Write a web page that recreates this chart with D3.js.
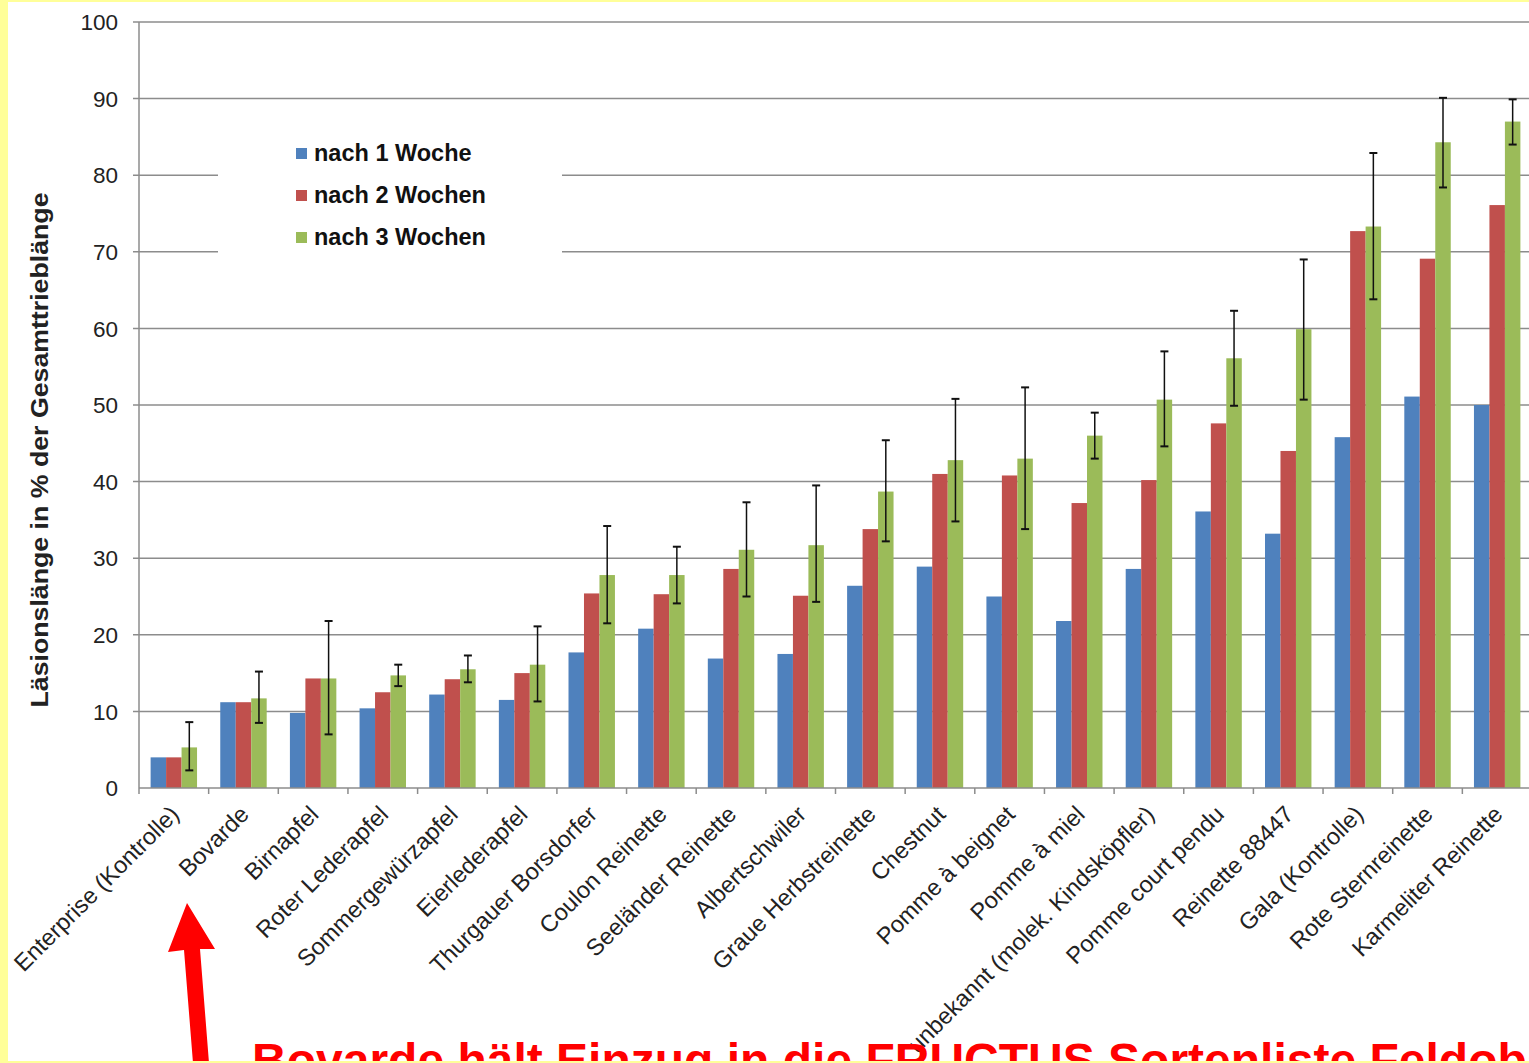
<!DOCTYPE html>
<html>
<head>
<meta charset="utf-8">
<script src="https://cdn.jsdelivr.net/npm/d3@7"></script>
<style>
  html, body { margin: 0; padding: 0; background: #fff; }
  svg { display: block; font-family: Arial, "Liberation Sans", sans-serif; }
</style>
</head>
<body>
<script>
// Sorten (x-axis categories)
var categories = ["Enterprise (Kontrolle)", "Bovarde", "Birnapfel", "Roter Lederapfel",
  "Sommergewürzapfel", "Eierlederapfel", "Thurgauer Borsdorfer", "Coulon Reinette",
  "Seeländer Reinette", "Albertschwiler", "Graue Herbstreinette", "Chestnut",
  "Pomme à beignet", "Pomme à miel", "unbekannt (molek. Kindsköpfler)", "Pomme court pendu",
  "Reinette 88447", "Gala (Kontrolle)", "Rote Sternreinette", "Karmeliter Reinette"];

var seriesNames = ["nach 1 Woche", "nach 2 Wochen", "nach 3 Wochen"];

// Läsionslänge in %
var week1 = [4.0, 11.2, 9.8, 10.4, 12.2, 11.5, 17.7, 20.8, 16.9, 17.5, 26.4, 28.9, 25.0, 21.8, 28.6, 36.1, 33.2, 45.8, 51.1, 50.0];
var week2 = [4.0, 11.2, 14.3, 12.5, 14.2, 15.0, 25.4, 25.3, 28.6, 25.1, 33.8, 41.0, 40.8, 37.2, 40.2, 47.6, 44.0, 72.7, 69.1, 76.1];
var week3 = [5.3, 11.7, 14.3, 14.7, 15.5, 16.1, 27.8, 27.8, 31.1, 31.7, 38.7, 42.8, 43.0, 46.0, 50.7, 56.1, 59.9, 73.3, 84.3, 87.0];

// error bars on the 3-week values (low / high)
var errLow  = [2.3, 8.5, 7.0, 13.3, 13.8, 11.3, 21.5, 24.1, 25.0, 24.3, 32.2, 34.8, 33.8, 43.0, 44.6, 49.9, 50.7, 63.8, 78.4, 84.0];
var errHigh = [8.6, 15.2, 21.8, 16.1, 17.3, 21.1, 34.2, 31.5, 37.3, 39.5, 45.4, 50.8, 52.3, 49.0, 57.0, 62.3, 69.0, 82.9, 90.1, 89.9];

var yTicks = [0, 10, 20, 30, 40, 50, 60, 70, 80, 90, 100];
var colors = ["#4F81BD", "#C0504D", "#9BBB59"];

var width = 1529, height = 1063;
var svg = d3.select("body").append("svg")
    .attr("width", width)
    .attr("height", height);

svg.append("rect").attr("width", width).attr("height", height).attr("fill", "#fff");

var plot = { left: 139, right: 1532, top: 22, bottom: 788 };

var x = d3.scaleBand()
    .domain(categories)
    .range([plot.left, plot.right]);

var xs = d3.scaleBand()
    .domain(d3.range(3))
    .range([0, x.bandwidth()])
    .paddingOuter(0.75);

var y = d3.scaleLinear()
    .domain([0, 100])
    .range([plot.bottom, plot.top]);

// gridlines
svg.append("g")
    .selectAll("line")
    .data(yTicks.slice(1))
    .enter().append("line")
    .attr("x1", plot.left - 6)
    .attr("x2", plot.right)
    .attr("y1", function (d) { return y(d); })
    .attr("y2", function (d) { return y(d); })
    .attr("stroke", "#8c8c8c")
    .attr("stroke-width", 1.5);

// y axis line
svg.append("line")
    .attr("x1", plot.left).attr("x2", plot.left)
    .attr("y1", plot.top).attr("y2", plot.bottom)
    .attr("stroke", "#8c8c8c").attr("stroke-width", 1.5);

// y tick labels
svg.append("g")
    .selectAll("text")
    .data(yTicks)
    .enter().append("text")
    .attr("x", 118)
    .attr("y", function (d) { return y(d); })
    .attr("dy", "0.36em")
    .attr("text-anchor", "end")
    .attr("font-size", 22.5)
    .attr("fill", "#222")
    .text(function (d) { return d; });

// bars
var rows = categories.map(function (c, i) {
    return { cat: c, vals: [week1[i], week2[i], week3[i]], lo: errLow[i], hi: errHigh[i] };
});

var groups = svg.append("g")
    .selectAll("g")
    .data(rows)
    .enter().append("g")
    .attr("transform", function (d) { return "translate(" + x(d.cat) + ",0)"; });

groups.selectAll("rect")
    .data(function (d) { return d.vals; })
    .enter().append("rect")
    .attr("x", function (d, i) { return xs(i); })
    .attr("width", xs.bandwidth())
    .attr("y", function (d) { return y(d); })
    .attr("height", function (d) { return y(0) - y(d); })
    .attr("fill", function (d, i) { return colors[i]; });

// error bars
var ex = function () { return xs(2) + xs.bandwidth() / 2; };
groups.append("line")
    .attr("x1", ex).attr("x2", ex)
    .attr("y1", function (d) { return y(d.lo); })
    .attr("y2", function (d) { return y(d.hi); })
    .attr("stroke", "#111").attr("stroke-width", 1.5);
[["lo"], ["hi"]].forEach(function (k) {
    groups.append("line")
        .attr("x1", function () { return ex() - 4; })
        .attr("x2", function () { return ex() + 4; })
        .attr("y1", function (d) { return y(d[k[0]]); })
        .attr("y2", function (d) { return y(d[k[0]]); })
        .attr("stroke", "#111").attr("stroke-width", 2);
});

// x axis line and ticks
svg.append("line")
    .attr("x1", plot.left).attr("x2", plot.right)
    .attr("y1", plot.bottom).attr("y2", plot.bottom)
    .attr("stroke", "#8c8c8c").attr("stroke-width", 1.5);
svg.append("g")
    .selectAll("line")
    .data(categories)
    .enter().append("line")
    .attr("x1", function (d) { return x(d); })
    .attr("x2", function (d) { return x(d); })
    .attr("y1", plot.bottom)
    .attr("y2", plot.bottom + 6)
    .attr("stroke", "#8c8c8c").attr("stroke-width", 1.5);

// category labels rotated
svg.append("g")
    .selectAll("text")
    .data(categories)
    .enter().append("text")
    .attr("transform", function (d) {
        return "translate(" + (x(d) + x.bandwidth() / 2 + 1) + "," + (plot.bottom + 22) + ") rotate(-45)";
    })
    .attr("text-anchor", "end")
    .attr("dy", "0.35em")
    .attr("font-size", 23.5)
    .attr("fill", "#222")
    .text(function (d) { return d; });

// y axis title
svg.append("text")
    .attr("transform", "translate(48,450) rotate(-90)")
    .attr("text-anchor", "middle")
    .attr("font-size", 24)
    .attr("font-weight", "bold")
    .attr("fill", "#222")
    .attr("textLength", 515)
    .attr("lengthAdjust", "spacingAndGlyphs")
    .text("Läsionslänge in % der Gesamttrieblänge");

// legend (white box hides gridlines)
var legend = svg.append("g");
legend.append("rect")
    .attr("x", 218).attr("y", 128)
    .attr("width", 344).attr("height", 134)
    .attr("fill", "#fff");
var li = legend.selectAll("g")
    .data(seriesNames)
    .enter().append("g")
    .attr("transform", function (d, i) { return "translate(296," + (153 + i * 42) + ")"; });
li.append("rect")
    .attr("x", 0).attr("y", -5)
    .attr("width", 11).attr("height", 11)
    .attr("fill", function (d, i) { return colors[i]; });
li.append("text")
    .attr("x", 18)
    .attr("dy", "0.36em")
    .attr("font-size", 23.5)
    .attr("font-weight", "bold")
    .attr("fill", "#111")
    .text(function (d) { return d; });

// red arrow pointing to Bovarde
svg.append("path")
    .attr("d", "M187,903 L215,949 L200,949 L209,1063 L193,1063 L184,950 L168,952 Z")
    .attr("fill", "#ff0000");

// red headline at bottom (cut off by the slide edge, as in the original)
svg.append("text")
    .attr("x", 252)
    .attr("y", 1077)
    .attr("font-size", 48)
    .attr("font-weight", "bold")
    .attr("fill", "#ff0000")
    .text("Bovarde hält Einzug in die FRUCTUS Sortenliste Feldobst");

// yellow slide frame
svg.append("rect").attr("x", 0).attr("y", 0).attr("width", 8).attr("height", height).attr("fill", "#ffff99");
svg.append("rect").attr("x", 0).attr("y", 0).attr("width", width).attr("height", 2).attr("fill", "#ffff99");
svg.append("rect").attr("x", 0).attr("y", 1061).attr("width", width).attr("height", 2).attr("fill", "#ffff99");
</script>
</body>
</html>
